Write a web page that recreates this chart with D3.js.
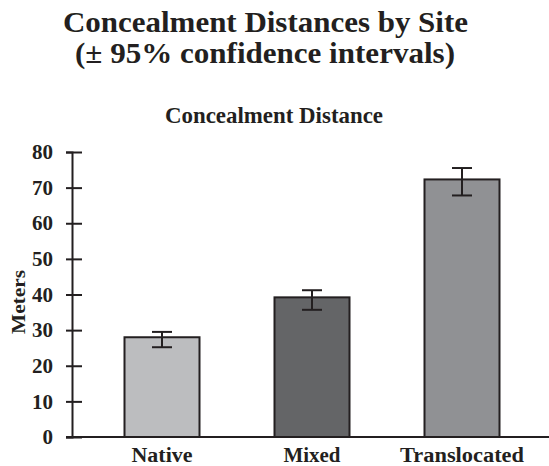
<!DOCTYPE html>
<html>
<head>
<meta charset="utf-8">
<script src="https://cdn.jsdelivr.net/npm/d3@7"></script>
<style>
  body { margin: 0; background: #fff; }
  svg text { font-family: "Liberation Serif", serif; font-weight: bold; fill: #231f20; }
</style>
</head>
<body>
<svg id="chart" width="549" height="466"></svg>
<script>
// chart data
const sites = ["Native", "Mixed", "Translocated"];
const meanDist = [28, 39.2, 72.3];
const ciLow = [25.2, 35.7, 67.8];
const ciHigh = [29.5, 41.2, 75.5];
const yTicks = [0, 10, 20, 30, 40, 50, 60, 70, 80];
const barFill = ["#bcbdbf", "#646567", "#909194"];
const siteLabelWidth = [61, 57, 124];

const svg = d3.select("#chart");
const ink = "#231f20";

// titles, stretched to the printed widths
const titles = [
  { txt: "Concealment Distances by Site", x: 265.5, y: 32, size: 30, w: 405 },
  { txt: "(\u00b1 95% confidence intervals)", x: 265, y: 63, size: 30, w: 380 },
  { txt: "Concealment Distance", x: 274, y: 123, size: 23, w: 218 },
];
titles.map((t) => {
  svg.append("text")
    .attr("x", t.x).attr("y", t.y)
    .attr("text-anchor", "middle")
    .attr("textLength", t.w)
    .attr("lengthAdjust", "spacingAndGlyphs")
    .style("font-size", t.size + "px")
    .text(t.txt);
});

const y = d3.scaleLinear().domain([0, 80]).range([437, 152]);
const x = d3.scaleBand().domain(sites).range([87, 537])
  .paddingInner(0.5).paddingOuter(0.25);

const rows = sites.map((s, i) => ({
  site: s, mean: meanDist[i], lo: ciLow[i], hi: ciHigh[i], fill: barFill[i]
}));

// y axis
const yAxis = svg.append("g")
  .attr("transform", "translate(72,0)")
  .call(d3.axisLeft(y).tickValues(yTicks).tickSize(6).tickPadding(13));
yAxis.select(".domain").attr("stroke", ink).attr("stroke-width", 2);
yAxis.selectAll(".tick line").attr("stroke", ink).attr("stroke-width", 2).attr("x2", 10).attr("x1", -6);
yAxis.selectAll(".tick text")
  .style("font-family", "Liberation Serif, serif")
  .style("font-weight", "bold")
  .style("font-size", "21px")
  .attr("fill", ink);

svg.append("text")
  .attr("transform", "translate(25,302) rotate(-90)")
  .attr("text-anchor", "middle")
  .attr("textLength", 64)
  .attr("lengthAdjust", "spacingAndGlyphs")
  .style("font-size", "19px")
  .text("Meters");

// bars
const bars = svg.append("g").selectAll("g")
  .data(rows)
  .enter()
  .append("g");
bars.append("rect")
  .attr("x", (d) => x(d.site))
  .attr("y", (d) => y(d.mean))
  .attr("width", x.bandwidth())
  .attr("height", (d) => y(0) - y(d.mean))
  .style("fill", (d) => d.fill)
  .style("stroke", ink)
  .style("stroke-width", 2);

// error bars
const cap = 10;
bars.append("line")
  .attr("x1", (d) => x(d.site) + x.bandwidth() / 2)
  .attr("x2", (d) => x(d.site) + x.bandwidth() / 2)
  .attr("y1", (d) => y(d.hi))
  .attr("y2", (d) => y(d.lo))
  .style("stroke", ink).style("stroke-width", 2);
["hi", "lo"].map((k) => {
  bars.append("line")
    .attr("x1", (d) => x(d.site) + x.bandwidth() / 2 - cap)
    .attr("x2", (d) => x(d.site) + x.bandwidth() / 2 + cap)
    .attr("y1", (d) => y(d[k]))
    .attr("y2", (d) => y(d[k]))
    .style("stroke", ink).style("stroke-width", 2);
});

// baseline + site labels
const xAxis = svg.append("g")
  .attr("transform", `translate(0,${y(0)})`)
  .call(d3.axisBottom(x).tickSize(0).tickPadding(11));
xAxis.select(".domain").attr("d", "M66,0H549").attr("stroke", ink).attr("stroke-width", 2);
xAxis.selectAll(".tick text")
  .style("font-family", "Liberation Serif, serif")
  .style("font-weight", "bold")
  .style("font-size", "20px")
  .attr("fill", ink)
  .attr("textLength", (d, i) => siteLabelWidth[i])
  .attr("lengthAdjust", "spacingAndGlyphs");
</script>
</body>
</html>
